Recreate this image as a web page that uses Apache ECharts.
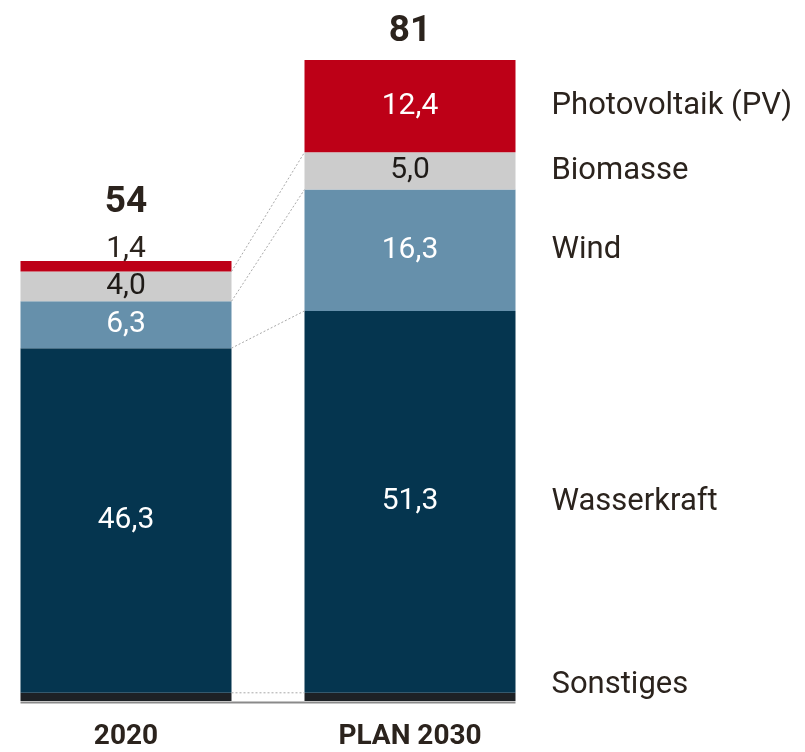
<!DOCTYPE html>
<html>
<head>
<meta charset="utf-8">
<script src="https://cdn.jsdelivr.net/npm/echarts@6/dist/echarts.min.js"></script>
<style>
  html, body { margin: 0; padding: 0; background: #ffffff; }
  #chart { width: 805px; height: 752px; }
</style>
</head>
<body>
<div id="chart"></div>
<script>
// Stromerzeugung nach Quelle, 2020 und Plan 2030
const categories   = ['2020', 'PLAN 2030'];
const sonstiges    = [1.1, 1.1];
const wasserkraft  = [46.3, 51.3];
const wind         = [6.3, 16.3];
const biomasse     = [4.0, 5.0];
const photovoltaik = [1.4, 12.4];
const totals       = [54, 81];
const seriesNames  = ['Sonstiges', 'Wasserkraft', 'Wind', 'Biomasse', 'Photovoltaik (PV)'];

const layers = [sonstiges, wasserkraft, wind, biomasse, photovoltaik];
const colors = ['#1d2125', '#05354f', '#6690ab', '#cccccc', '#bd0017'];
const labelColors = [null, '#ffffff', '#ffffff', '#1e1a17', '#ffffff'];
const TEXT = '#2b231d';
const BAR_W = 211;
const FONT = 'Roboto, "Noto Sans", sans-serif';

// cumulative top of each layer per category
function cumTop(layerIdx, cat) {
  let s = 0;
  for (let k = 0; k <= layerIdx; k++) s += layers[k][cat];
  return s;
}
const fmt = v => v.toFixed(1).replace('.', ',');

const chart = echarts.init(document.getElementById('chart'), null, { renderer: 'canvas' });

const barSeries = layers.map((arr, k) => ({
  name: seriesNames[k],
  type: 'bar',
  stack: 'total',
  barWidth: BAR_W,
  itemStyle: { color: colors[k] },
  data: arr.map((v, i) => {
    const item = { value: v };
    if (k === 0) {
      item.label = { show: false };
    } else if (v < 3) {
      // thin segment: value sits above the bar
      item.label = { show: true, position: 'top', distance: -3, color: TEXT };
    } else {
      item.label = { show: true, position: 'inside', color: labelColors[k] };
    }
    return item;
  }),
  label: {
    formatter: p => fmt(p.value),
    fontFamily: FONT,
    fontSize: 30
  },
  emphasis: { disabled: true }
}));

// stack totals above each bar
const totalsSeries = {
  type: 'custom',
  clip: false,
  z: 5,
  data: totals.map((t, i) => [i, cumTop(layers.length - 1, i), t, photovoltaik[i]]),
  renderItem: (params, api) => {
    const i = api.value(0);
    const top = api.coord([i, api.value(1)]);
    const pvPx = api.size([0, api.value(3)])[1];
    const lift = pvPx < 20 ? 58 : 28;
    return {
      type: 'text',
      x: top[0],
      y: top[1] - lift,
      style: {
        text: String(api.value(2)),
        fill: TEXT,
        font: 'bold 37px ' + FONT,
        align: 'center',
        verticalAlign: 'middle'
      }
    };
  }
};

// dotted connectors between the layer tops of both bars
const connectorData = [0, 1, 2, 3].map(k => [0, cumTop(k, 0), cumTop(k, 1)]);
const connectorSeries = {
  type: 'custom',
  clip: false,
  z: 4,
  data: connectorData,
  renderItem: (params, api) => {
    const a = api.coord([0, api.value(1)]);
    const b = api.coord([1, api.value(2)]);
    return {
      type: 'line',
      shape: { x1: a[0] + BAR_W / 2, y1: a[1], x2: b[0] - BAR_W / 2, y2: b[1] },
      style: { stroke: '#a9a9a9', lineWidth: 1, lineDash: [2, 2] }
    };
  }
};

// thin grey baseline under both bars
const baselineSeries = {
  type: 'custom',
  clip: false,
  z: 3,
  data: [[0, 0]],
  renderItem: (params, api) => {
    const a = api.coord([0, 0]);
    const b = api.coord([1, 0]);
    return {
      type: 'line',
      shape: { x1: a[0] - BAR_W / 2, y1: a[1] + 1.5, x2: b[0] + BAR_W / 2, y2: b[1] + 1.5 },
      style: { stroke: '#8a8a8a', lineWidth: 2 }
    };
  }
};

// source names to the right of the 2030 bar
const nameData = layers.map((arr, k) => [1, cumTop(k, 1) - arr[1] / 2, arr[1], k]);
const nameSeries = {
  type: 'custom',
  clip: false,
  z: 5,
  data: nameData,
  renderItem: (params, api) => {
    const k = api.value(3);
    const mid = api.coord([1, api.value(1)]);
    const segPx = api.size([0, api.value(2)])[1];
    const thin = segPx < 20;
    const base = api.coord([1, 0]);
    return {
      type: 'text',
      x: mid[0] + BAR_W / 2 + 36,
      y: thin ? base[1] : mid[1],
      style: {
        text: seriesNames[k],
        fill: TEXT,
        font: '31px ' + FONT,
        align: 'left',
        verticalAlign: thin ? 'bottom' : 'middle'
      }
    };
  }
};

chart.setOption({
  backgroundColor: '#ffffff',
  animation: false,
  grid: { left: -16, width: 568, top: 31, bottom: 51, containLabel: false, outerBoundsMode: 'none' },
  xAxis: {
    type: 'category',
    data: categories,
    axisLine: { show: false },
    axisTick: { show: false },
    axisLabel: {
      color: TEXT,
      fontFamily: FONT,
      fontWeight: 'bold',
      fontSize: 28,
      margin: 22
    }
  },
  yAxis: { type: 'value', min: 0, max: 90, show: false, splitLine: { show: false } },
  series: [...barSeries, baselineSeries, connectorSeries, totalsSeries, nameSeries]
});
</script>
</body>
</html>
